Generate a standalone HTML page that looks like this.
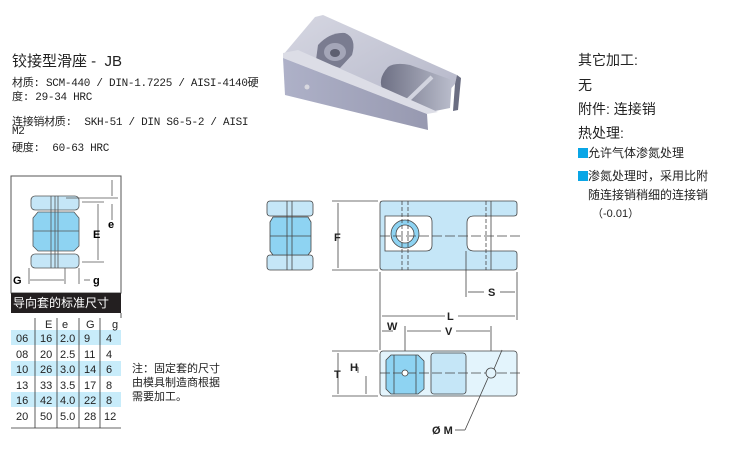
<!DOCTYPE html>
<html><head><meta charset="utf-8"><style>
body{margin:0;width:733px;height:461px;background:#fff;overflow:hidden;position:relative;font-family:"Liberation Sans","Noto Sans CJK SC",sans-serif;color:#222}
.t{position:absolute;white-space:nowrap}
.m{font-family:"Liberation Mono","Noto Sans CJK SC",monospace;font-size:11px;letter-spacing:-0.3px}
</style></head><body>
<div class="t" style="left:12px;top:50px;font-size:15px">铰接型滑座 -&nbsp; JB</div>
<div class="t m" style="left:12px;top:74px">材质: SCM-440 / DIN-1.7225 / AISI-4140硬</div>
<div class="t m" style="left:12px;top:88px">度: 29-34 HRC</div>
<div class="t m" style="left:12px;top:113px">连接销材质:&nbsp; SKH-51 / DIN S6-5-2 / AISI</div>
<div class="t m" style="left:12px;top:126px">M2</div>
<div class="t m" style="left:12px;top:139px">硬度:&nbsp; 60-63 HRC</div>

<div class="t" style="left:578px;top:50px;font-size:14px">其它加工:</div>
<div class="t" style="left:578px;top:75px;font-size:14px">无</div>
<div class="t" style="left:578px;top:99px;font-size:14px">附件: 连接销</div>
<div class="t" style="left:578px;top:123px;font-size:14px">热处理:</div>
<div class="t" style="left:578px;top:144px;font-size:12px"><span style="display:inline-block;width:10px;height:10px;background:#0aa6e6;vertical-align:-1px"></span>允许气体渗氮处理</div>
<div class="t" style="left:578px;top:167px;font-size:12px"><span style="display:inline-block;width:10px;height:10px;background:#0aa6e6;vertical-align:-1px"></span>渗氮处理时，采用比附</div>
<div class="t" style="left:588px;top:186px;font-size:12px">随连接销稍细的连接销</div>
<div class="t" style="left:592px;top:205px;font-size:11px">（-0.01）</div>

<div class="t" style="left:132px;top:362px;font-size:11px;line-height:14px">注：固定套的尺寸<br>由模具制造商根据<br>需要加工。</div>

<svg width="733" height="461" style="position:absolute;left:0;top:0" xmlns="http://www.w3.org/2000/svg">
<defs>
<linearGradient id="g1" x1="0" y1="0" x2="1" y2="1"><stop offset="0" stop-color="#d6d7e2"/><stop offset="1" stop-color="#b4b6c8"/></linearGradient>
<linearGradient id="g2" x1="0" y1="0" x2="1" y2="0"><stop offset="0" stop-color="#aeb1c8"/><stop offset="1" stop-color="#9799b0"/></linearGradient>
<linearGradient id="g3" x1="0" y1="0" x2="1" y2="0"><stop offset="0" stop-color="#6e7084"/><stop offset="1" stop-color="#b9bccb"/></linearGradient>
</defs>
<!-- photo -->
<polygon points="315,17 323,15 457,75 455,84 430,112 283,55" fill="url(#g1)"/>
<polygon points="457,75 461,78 458,110 453,111 455,84" fill="#6b6e82"/>
<path d="M318,45 Q330,32 345,33 Q357,38 352,55 L340,68 L316,60 Z" fill="#7a7c90"/>
<ellipse cx="335" cy="52" rx="11" ry="9" fill="#a4a6b8"/><ellipse cx="335" cy="53" rx="5" ry="4" fill="#5d5f70"/>
<path d="M388,67 Q395,62 410,65 L452,80 L450,108 L430,112 Q400,100 382,88 Q378,78 388,67 Z" fill="url(#g3)"/>
<line x1="405" y1="103" x2="432" y2="77" stroke="#d2d4df" stroke-width="4"/>
<polygon points="283,53 298,50 438,112 427,114 283,58" fill="#dcdde6"/>
<polygon points="283,58 427,114 428,130 285,95" fill="url(#g2)"/>
<circle cx="307" cy="87" r="2.5" fill="#d8d8df"/>

<!-- left box diagram -->
<rect x="11" y="176" width="110" height="117" fill="#fff" stroke="#555"/>
<g stroke="#555" stroke-width="0.8">
<rect x="31" y="196" width="48" height="14" rx="4" fill="#c5e6f7"/>
<rect x="31" y="254" width="48" height="14" rx="4" fill="#c5e6f7"/>
<polygon points="38,212 74,212 79,218 79,246 74,251 38,251 33,246 33,218" fill="#8ed3f2"/>
<line x1="33" y1="231" x2="79" y2="231"/><line x1="55" y1="196" x2="55" y2="268"/>
<line x1="51" y1="196" x2="51" y2="268"/><line x1="58" y1="196" x2="58" y2="268"/>
<line x1="66" y1="198" x2="118" y2="198"/><line x1="82" y1="202" x2="104" y2="202"/><line x1="82" y1="262" x2="104" y2="262"/>
<line x1="98" y1="204" x2="98" y2="260"/><line x1="112" y1="180" x2="112" y2="196"/><line x1="112" y1="204" x2="112" y2="220"/>
<line x1="29" y1="268" x2="29" y2="284"/><line x1="65" y1="268" x2="65" y2="284"/><line x1="79" y1="268" x2="79" y2="284"/>
<line x1="30" y1="280" x2="64" y2="280"/><line x1="84" y1="280" x2="90" y2="280"/>
</g>
<text x="93" y="238" font-size="11" font-weight="bold" font-family="Liberation Sans">E</text>
<text x="108" y="228" font-size="11" font-weight="bold" font-family="Liberation Sans">e</text>
<text x="13" y="284" font-size="11" font-weight="bold" font-family="Liberation Sans">G</text>
<text x="93" y="284" font-size="11" font-weight="bold" font-family="Liberation Sans">g</text>
<rect x="11" y="293" width="110" height="20" fill="#231f20"/>
<text x="13" y="307" font-size="12" fill="#fff" font-family="Noto Sans CJK SC">导向套的标准尺寸</text>
<g fill="#c8ecfa"><rect x="11" y="330" width="110" height="15"/><rect x="11" y="361" width="110" height="15"/><rect x="11" y="392" width="110" height="15"/></g>
<g stroke="#333" stroke-width="0.8"><line x1="35" y1="318" x2="35" y2="428"/><line x1="57" y1="318" x2="57" y2="428"/><line x1="79" y1="318" x2="79" y2="428"/><line x1="100" y1="318" x2="100" y2="428"/><line x1="11" y1="428" x2="121" y2="428"/><line x1="121" y1="313" x2="121" y2="318"/></g>
<g font-size="11" font-family="Liberation Sans" fill="#222">
<text x="45" y="328">E</text><text x="62" y="328">e</text><text x="86" y="328">G</text><text x="112" y="328">g</text>
<text x="16" y="342">06</text><text x="40" y="342">16</text><text x="60" y="342">2.0</text><text x="84" y="342">9</text><text x="106" y="342">4</text>
<text x="16" y="358">08</text><text x="40" y="358">20</text><text x="60" y="358">2.5</text><text x="84" y="358">11</text><text x="106" y="358">4</text>
<text x="16" y="373">10</text><text x="40" y="373">26</text><text x="60" y="373">3.0</text><text x="84" y="373">14</text><text x="106" y="373">6</text>
<text x="16" y="389">13</text><text x="40" y="389">33</text><text x="60" y="389">3.5</text><text x="84" y="389">17</text><text x="106" y="389">8</text>
<text x="16" y="404">16</text><text x="40" y="404">42</text><text x="60" y="404">4.0</text><text x="84" y="404">22</text><text x="106" y="404">8</text>
<text x="16" y="420">20</text><text x="40" y="420">50</text><text x="60" y="420">5.0</text><text x="84" y="420">28</text><text x="104" y="420">12</text>
</g>

<!-- middle drawings -->
<g stroke="#444" stroke-width="0.8">
<rect x="267" y="201" width="46" height="15" rx="3" fill="#c5e6f7"/>
<rect x="267" y="255" width="46" height="15" rx="3" fill="#c5e6f7"/>
<polygon points="273,217 308,217 311,222 311,251 308,255 273,255 270,251 270,222" fill="#8ed3f2"/>
<line x1="287" y1="201" x2="287" y2="270"/><line x1="292" y1="201" x2="292" y2="270"/><line x1="270" y1="236" x2="311" y2="236"/>
<path d="M383,201 H514 Q517,201 517,204 V213 Q517,216 514,216 H474 Q467,216 467,223 V244 Q467,251 474,251 H514 Q517,251 517,254 V267 Q517,270 514,270 H383 Q380,270 380,267 V204 Q380,201 383,201 Z M385,216 H427 Q432,216 432,222 V245 Q432,251 426,251 H385 Z" fill="#c5e6f7" fill-rule="evenodd"/>
<circle cx="405" cy="234" r="14" fill="#8ed3f2"/><circle cx="405" cy="234" r="9" fill="#fff"/>
<line x1="402" y1="201" x2="402" y2="270" stroke-dasharray="4,2"/><line x1="408" y1="201" x2="408" y2="270" stroke-dasharray="4,2"/>
<line x1="486" y1="201" x2="486" y2="270" stroke-dasharray="4,2"/><line x1="491" y1="201" x2="491" y2="270"/>
<line x1="380" y1="236" x2="520" y2="236" stroke-dasharray="10,3"/>
<line x1="332" y1="201" x2="378" y2="201"/><line x1="332" y1="270" x2="378" y2="270"/><line x1="338" y1="203" x2="338" y2="268"/>
<line x1="380" y1="272" x2="380" y2="350"/><line x1="517" y1="272" x2="517" y2="320"/><line x1="466" y1="251" x2="466" y2="297"/>
<line x1="468" y1="292" x2="484" y2="292"/><line x1="500" y1="292" x2="515" y2="292"/>
<line x1="382" y1="316" x2="445" y2="316"/><line x1="458" y1="316" x2="515" y2="316"/>
<line x1="382" y1="331" x2="393" y2="331"/><line x1="407" y1="331" x2="441" y2="331"/><line x1="456" y1="331" x2="490" y2="331"/>
<line x1="405" y1="326" x2="405" y2="386"/><line x1="491" y1="326" x2="491" y2="372"/>
<rect x="380" y="351" width="137" height="45" rx="3" fill="#e3f4fc"/>
<rect x="431" y="353" width="35" height="41" rx="3" fill="#c5e6f7"/>
<polygon points="391,355 418,355 424,361 424,389 418,394 391,394 386,389 386,360" fill="#8ed3f2"/>
<line x1="394" y1="355" x2="394" y2="394"/><line x1="416" y1="355" x2="416" y2="394"/>
<line x1="380" y1="373" x2="520" y2="373" stroke-dasharray="10,3"/>
<circle cx="405" cy="373" r="3" fill="#fff"/><circle cx="491" cy="373" r="5" fill="#e3f4fc"/>
<line x1="332" y1="351" x2="378" y2="351"/><line x1="332" y1="396" x2="378" y2="396"/><line x1="338" y1="353" x2="338" y2="394"/>
<line x1="352" y1="367" x2="358" y2="367"/><line x1="358" y1="367" x2="358" y2="373"/><line x1="366" y1="376" x2="366" y2="394"/>
<line x1="502" y1="350" x2="494" y2="369"/><line x1="488" y1="378" x2="465" y2="430"/><line x1="465" y1="430" x2="455" y2="430"/>
</g>
<g font-size="11" font-weight="bold" font-family="Liberation Sans" fill="#222">
<text x="334" y="241">F</text><text x="488" y="296">S</text><text x="447" y="320">L</text><text x="387" y="330">W</text><text x="445" y="335">V</text>
<text x="334" y="378">T</text><text x="350" y="371">H</text><text x="432" y="434">Ø M</text>
</g>
</svg>
</body></html>
